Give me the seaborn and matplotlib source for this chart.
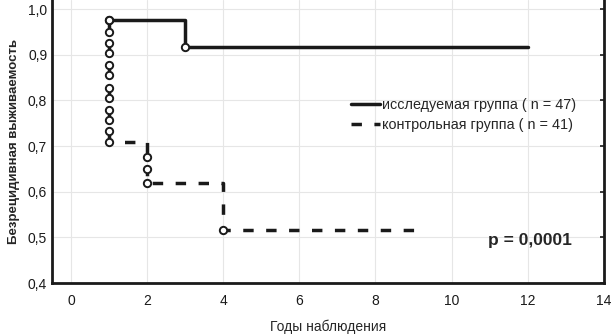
import matplotlib.pyplot as plt
import pandas as pd
import seaborn as sns

# Kaplan-Meier style curves
study_time = [1, 3, 12]
study_surv = [0.976, 0.917, 0.917]

control_time = [1, 1, 1, 1, 1, 1, 1, 1, 1, 1, 1, 1, 2, 2, 2, 4, 9]
control_surv = [0.976, 0.950, 0.926, 0.904, 0.878, 0.856, 0.828, 0.806,
                0.780, 0.758, 0.732, 0.708, 0.677, 0.649, 0.620, 0.516, 0.516]

x_ticks = [0, 2, 4, 6, 8, 10, 12, 14]
y_ticks = [0.4, 0.5, 0.6, 0.7, 0.8, 0.9, 1.0]
y_tick_labels = ["0,4", "0,5", "0,6", "0,7", "0,8", "0,9", "1,0"]

study_label = "исследуемая группа ( n = 47)"
control_label = "контрольная группа ( n = 41)"

sns.set_style("white")
plt.rcParams["font.family"] = ["Liberation Sans", "DejaVu Sans"]

study_df = pd.DataFrame({"t": study_time, "s": study_surv})
control_df = pd.DataFrame({"t": control_time, "s": control_surv})

fig = plt.figure(figsize=(6.14, 3.35), dpi=100)
ax = fig.add_axes([0.0847, 0.155, 0.8987, 0.845])

ax.grid(True, color="#e6e6e6", linewidth=0.8)
ax.set_axisbelow(True)

sns.lineplot(data=study_df, x="t", y="s", ax=ax, estimator=None, sort=False,
             drawstyle="steps-post", color="#1a1a1a", linewidth=2.5,
             label=study_label)
sns.lineplot(data=control_df, x="t", y="s", ax=ax, estimator=None, sort=False,
             drawstyle="steps-post", color="#1a1a1a", linewidth=2.5,
             dashes=False, label=control_label)
ax.lines[1].set_dashes((3.0, 3.6))

marker_style = dict(color="white", edgecolor="#1a1a1a", s=28, linewidth=1.4,
                    zorder=5)
ax.scatter(study_df["t"][:-1], study_df["s"][:-1], **marker_style)
ax.scatter(control_df["t"][:-1], control_df["s"][:-1], **marker_style)

ax.set_xlim(-0.5, 14)
ax.set_ylim(0.4, 1.02)
ax.set_xticks(x_ticks)
ax.set_yticks(y_ticks)
ax.set_yticklabels(y_tick_labels)
ax.tick_params(direction="in", length=3, width=1.2, labelsize=10,
               right=True, colors="#1a1a1a")
ax.tick_params(axis="x", pad=8)

for side in ["left", "bottom", "right"]:
    ax.spines[side].set_linewidth(2)
    ax.spines[side].set_color("#1a1a1a")
ax.spines["top"].set_visible(False)

ax.set_xlabel("Годы наблюдения", fontsize=10, labelpad=8)
ax.set_ylabel("Безрецидивная выживаемость", fontsize=9.5, fontweight="bold",
              labelpad=6)

ax.legend(loc="upper right", bbox_to_anchor=(0.96, 0.675), frameon=False,
          fontsize=10.4, handlelength=2.0, handletextpad=0.15,
          labelspacing=0.45, borderaxespad=0)

ax.text(0.942, 0.152, "p = 0,0001", transform=ax.transAxes, ha="right",
        va="center", fontsize=12.5, fontweight="bold")

fig.savefig("out.png", dpi=100)
